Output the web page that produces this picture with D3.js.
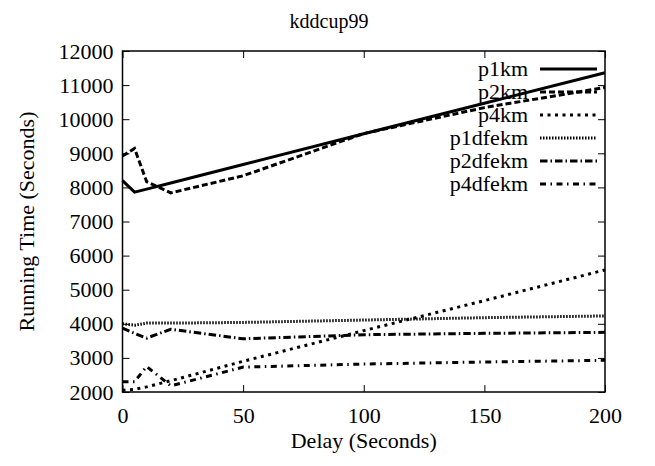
<!DOCTYPE html>
<html><head><meta charset="utf-8">
<script src="https://cdn.jsdelivr.net/npm/d3@7"></script>
<style>
body{margin:0;background:#fff;}
text{font-family:"Liberation Serif","Times New Roman",serif;fill:#000;}
</style></head>
<body><svg id="c" width="655" height="466"></svg>
<script>
const delays = [0, 5, 10, 20, 50, 100, 150, 200];
const p1km    = [8200, 7860, 7950, 8130, 8670, 9575, 10470, 11360];
const p2km    = [8920, 9140, 8170, 7840, 8340, 9580, 10340, 10930];
const p4km    = [2050, 2080, 2150, 2330, 2900, 3800, 4680, 5580];
const p1dfekm = [4000, 3960, 4020, 4020, 4040, 4110, 4180, 4230];
const p2dfekm = [3870, 3720, 3580, 3840, 3560, 3680, 3720, 3750];
const p4dfekm = [2300, 2300, 2750, 2180, 2730, 2820, 2880, 2930];
const seriesNames = ["p1km","p2km","p4km","p1dfekm","p2dfekm","p4dfekm"];
const seriesData = [p1km, p2km, p4km, p1dfekm, p2dfekm, p4dfekm];
const dashes = ["none","6,3","3,4.5","1.5,1.5","7.5,3,1.5,3","6,4.5,1.5,4.5"];
const xTicks = [0, 50, 100, 150, 200];
const yTicks = [2000,3000,4000,5000,6000,7000,8000,9000,10000,11000,12000];
const title = "kddcup99", xTitle = "Delay (Seconds)", yTitle = "Running Time (Seconds)";

const L = 122.5, R = 605, T = 51, B = 392;
const x = d3.scaleLinear().domain([0,200]).range([L,R]);
const y = d3.scaleLinear().domain([2000,12000]).range([B,T]);
const svg = d3.select("#c");
const fs = 22;
const fmt = d3.format("d");

function styleAxis(g){ g.select(".domain").remove(); g.selectAll("line").attr("stroke","#000").attr("stroke-width",1); g.selectAll("text").attr("font-size",fs).attr("font-family",'"Liberation Serif",serif'); }
svg.append("g").attr("transform",`translate(0,${B})`).call(d3.axisBottom(x).tickValues(xTicks).tickFormat(fmt).tickSizeInner(-7).tickSizeOuter(0).tickPadding(15)).call(styleAxis);
svg.append("g").attr("transform",`translate(0,${T})`).call(d3.axisTop(x).tickValues(xTicks).tickSizeInner(-7).tickSizeOuter(0).tickFormat("")).call(styleAxis);
svg.append("g").attr("transform",`translate(${L},0)`).call(d3.axisLeft(y).tickValues(yTicks).tickFormat(fmt).tickSizeInner(-7).tickSizeOuter(0).tickPadding(9)).call(styleAxis);
svg.append("g").attr("transform",`translate(${R},0)`).call(d3.axisRight(y).tickValues(yTicks).tickSizeInner(-7).tickSizeOuter(0).tickFormat("")).call(styleAxis);
svg.append("rect").attr("x",L).attr("y",T).attr("width",R-L).attr("height",B-T).attr("fill","none").attr("stroke","#000").attr("stroke-width",1.5);

const line = d3.line().x((d,i)=>x(delays[i])).y(d=>y(d));
seriesData.forEach((s,k)=>{
  svg.append("path").datum(s).attr("d",line).attr("fill","none").attr("stroke","#000")
    .attr("stroke-width",3).attr("stroke-dasharray",dashes[k]);
});
// legend
seriesNames.forEach((n,k)=>{
  const yy = 69 + k*23;
  svg.append("text").attr("x",528).attr("y",yy).attr("dy","0.32em").attr("text-anchor","end").attr("font-size",fs).text(n);
  svg.append("line").attr("x1",540).attr("x2",597).attr("y1",yy).attr("y2",yy).attr("stroke","#000").attr("stroke-width",3).attr("stroke-dasharray",dashes[k]);
});
svg.append("text").attr("x",329).attr("y",28).attr("text-anchor","middle").attr("font-size",20).text(title);
svg.append("text").attr("x",(L+R)/2).attr("y",448).attr("text-anchor","middle").attr("font-size",fs).text(xTitle);
svg.append("text").attr("transform",`translate(34,${(T+B)/2}) rotate(-90)`).attr("text-anchor","middle").attr("font-size",fs).text(yTitle);
</script></body></html>
